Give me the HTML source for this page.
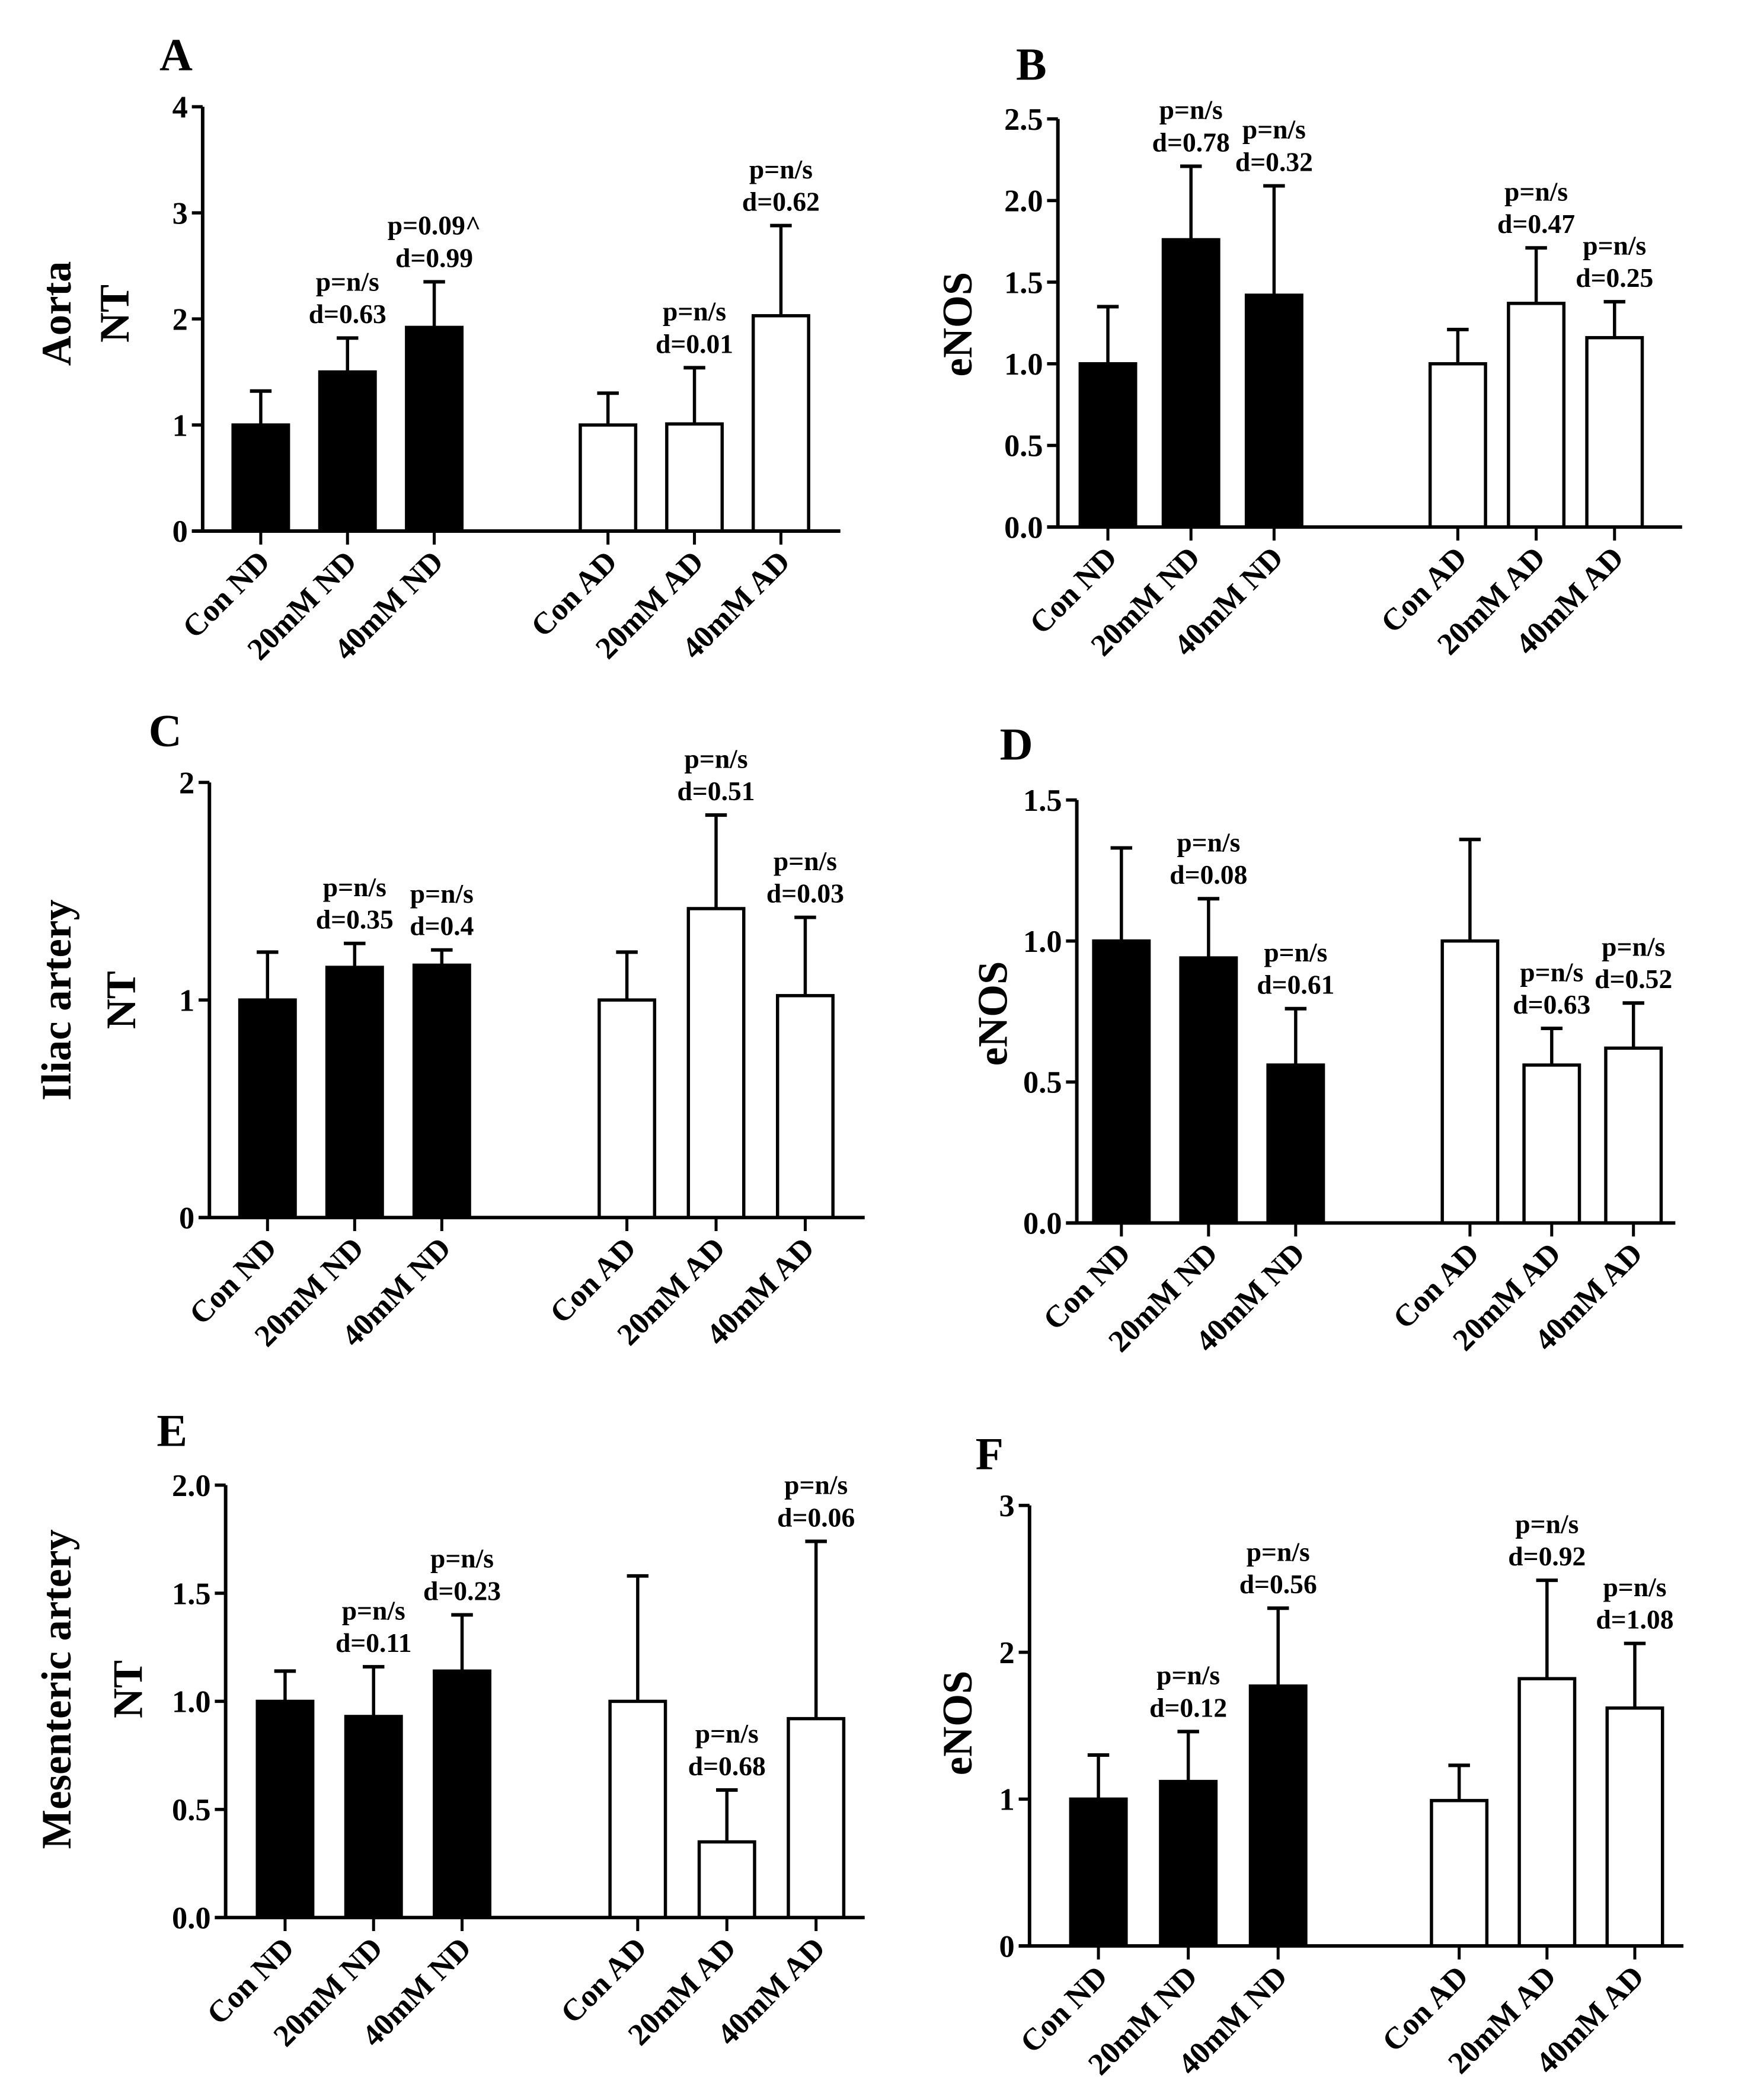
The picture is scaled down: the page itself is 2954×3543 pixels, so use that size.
<!DOCTYPE html>
<html><head><meta charset="utf-8"><style>
html,body{margin:0;padding:0;background:#fff}
svg{display:block}
text{font-family:"Liberation Serif",serif;font-weight:bold;fill:#000}
</style></head><body>
<svg id="fig" xmlns="http://www.w3.org/2000/svg" width="2954" height="3543" viewBox="0 0 1296 1554" preserveAspectRatio="none"></svg>
<script>
const categories = ["Con ND","20mM ND","40mM ND","Con AD","20mM AD","40mM AD"];
const aMeans = [1.0,1.5,1.92,1.0,1.01,2.03];
const aErr = [1.32,1.82,2.35,1.3,1.54,2.88];
const aAnnot = [null,["p=n/s","d=0.63"],["p=0.09^","d=0.99"],null,["p=n/s","d=0.01"],["p=n/s","d=0.62"]];
const aTicks = ["0","1","2","3","4"];
const bMeans = [1.0,1.76,1.42,1.0,1.37,1.16];
const bErr = [1.35,2.21,2.09,1.21,1.71,1.38];
const bAnnot = [null,["p=n/s","d=0.78"],["p=n/s","d=0.32"],null,["p=n/s","d=0.47"],["p=n/s","d=0.25"]];
const bTicks = ["0.0","0.5","1.0","1.5","2.0","2.5"];
const cMeans = [1.0,1.15,1.16,1.0,1.42,1.02];
const cErr = [1.22,1.26,1.23,1.22,1.85,1.38];
const cAnnot = [null,["p=n/s","d=0.35"],["p=n/s","d=0.4"],null,["p=n/s","d=0.51"],["p=n/s","d=0.03"]];
const cTicks = ["0","1","2"];
const dMeans = [1.0,0.94,0.56,1.0,0.56,0.62];
const dErr = [1.33,1.15,0.76,1.36,0.69,0.78];
const dAnnot = [null,["p=n/s","d=0.08"],["p=n/s","d=0.61"],null,["p=n/s","d=0.63"],["p=n/s","d=0.52"]];
const dTicks = ["0.0","0.5","1.0","1.5"];
const eMeans = [1.0,0.93,1.14,1.0,0.35,0.92];
const eErr = [1.14,1.16,1.4,1.58,0.59,1.74];
const eAnnot = [null,["p=n/s","d=0.11"],["p=n/s","d=0.23"],null,["p=n/s","d=0.68"],["p=n/s","d=0.06"]];
const eTicks = ["0.0","0.5","1.0","1.5","2.0"];
const fMeans = [1.0,1.12,1.77,0.99,1.82,1.62];
const fErr = [1.3,1.46,2.3,1.23,2.49,2.06];
const fAnnot = [null,["p=n/s","d=0.12"],["p=n/s","d=0.56"],null,["p=n/s","d=0.92"],["p=n/s","d=1.08"]];
const fTicks = ["0","1","2","3"];

const panels = [
 {id:"a",letter:"A",lx:118,ly:52,ylabels:["Aorta","NT"],ylx:[45,88],yly:232,ax:150,y0:393,yTop:79,max:4,xEnd:622,nd:[193,64.2],ad:[450,64],means:aMeans,err:aErr,annot:aAnnot,ticks:aTicks},
 {id:"b",letter:"B",lx:752,ly:59,ylabels:["eNOS"],ylx:[712],yly:240,ax:783,y0:390,yTop:88,max:2.5,xEnd:1245,nd:[820,61.5],ad:[1079,58],means:bMeans,err:bErr,annot:bAnnot,ticks:bTicks},
 {id:"c",letter:"C",lx:110,ly:552,ylabels:["Iliac artery","NT"],ylx:[45,93],yly:740,ax:155,y0:901,yTop:579,max:2,xEnd:640,nd:[198,64.5],ad:[464,66],means:cMeans,err:cErr,annot:cAnnot,ticks:cTicks},
 {id:"d",letter:"D",lx:740,ly:562,ylabels:["eNOS"],ylx:[738],yly:750,ax:797,y0:905,yTop:592,max:1.5,xEnd:1240,nd:[830,64.5],ad:[1088,60.5],means:dMeans,err:dErr,annot:dAnnot,ticks:dTicks},
 {id:"e",letter:"E",lx:116,ly:1070,ylabels:["Mesenteric artery","NT"],ylx:[45,98],yly:1250,ax:167,y0:1419,yTop:1099,max:2,xEnd:640,nd:[211,65.5],ad:[472,66],means:eMeans,err:eErr,annot:eAnnot,ticks:eTicks},
 {id:"f",letter:"F",lx:722,ly:1087,ylabels:["eNOS"],ylx:[712],yly:1275,ax:762,y0:1440,yTop:1114,max:3,xEnd:1246,nd:[813,66.5],ad:[1080,65],means:fMeans,err:fErr,annot:fAnnot,ticks:fTicks}
];
const NS="http://www.w3.org/2000/svg";
const svg=document.getElementById("fig");
function mk(tag,attrs,parent,txt){const e=document.createElementNS(NS,tag);for(const k in attrs)e.setAttribute(k,attrs[k]);if(txt!==undefined)e.textContent=txt;parent.appendChild(e);return e;}
panels.forEach(p=>{
  const g=mk("g",{},svg);
  
  
  const ys=v=>p.y0-(v/p.max)*(p.y0-p.yTop);
  const xs=i=>i<3?p.nd[0]+i*p.nd[1]:p.ad[0]+(i-3)*p.ad[1];
  const t=mk("text",{x:p.lx,y:p.ly,"font-size":34},g,p.letter);
  
  
  p.ylabels.forEach((s,k)=>{
    const yl=mk("text",{x:p.ylx[k],y:p.yly,"font-size":31,"text-anchor":"middle",transform:`rotate(-90 ${p.ylx[k]} ${p.yly})`,"dominant-baseline":"middle"},g,s);
    
    
  });
  p.means.forEach((v,i)=>{
    const x=xs(i),w=41,filled=i<3;
    const ey=ys(p.err[i]);
    const el=mk("line",{x1:x,y1:ys(v),x2:x,y2:ey,stroke:"#000","stroke-width":2.4},g);
    
    
    const cap=mk("line",{x1:x-8,y1:ey,x2:x+8,y2:ey,stroke:"#000","stroke-width":2.6},g);
    
    
    const r=mk("rect",{x:x-w/2,y:ys(v),width:w,height:p.y0-ys(v),fill:filled?"#000":"#fff",stroke:"#000","stroke-width":2.4},g);
    
    
    const a=p.annot[i];
    if(a){
      const t1=mk("text",{x:x,y:ey-35,"font-size":20,"text-anchor":"middle"},g,a[0]);
      
      
      const t2=mk("text",{x:x,y:ey-11,"font-size":20,"text-anchor":"middle"},g,a[1]);
      
      
    }
    const tk=mk("line",{x1:x,y1:p.y0,x2:x,y2:p.y0+10,stroke:"#000","stroke-width":2.2},g);
    
    
    const lx=x+8,ly=p.y0+24;
    const cl=mk("text",{x:lx,y:ly,"font-size":23,"text-anchor":"end",transform:`rotate(-45 ${lx} ${ly})`},g,categories[i]);
    
    
  });
  const ya=mk("line",{x1:p.ax,y1:p.yTop,x2:p.ax,y2:p.y0+1,stroke:"#000","stroke-width":2.6},g);
  
  
  const xa=mk("line",{x1:p.ax-8,y1:p.y0,x2:p.xEnd,y2:p.y0,stroke:"#000","stroke-width":2.6},g);
  
  
  p.ticks.forEach((s,k)=>{
    const v=parseFloat(s),y=ys(v);
    const tl=mk("line",{x1:p.ax-8,y1:y,x2:p.ax,y2:y,stroke:"#000","stroke-width":2.4},g);
    
    
    const tt=mk("text",{x:p.ax-11,y:y+8,"font-size":23,"text-anchor":"end"},g,s);
    
    
  });
});
</script>
</body></html>
